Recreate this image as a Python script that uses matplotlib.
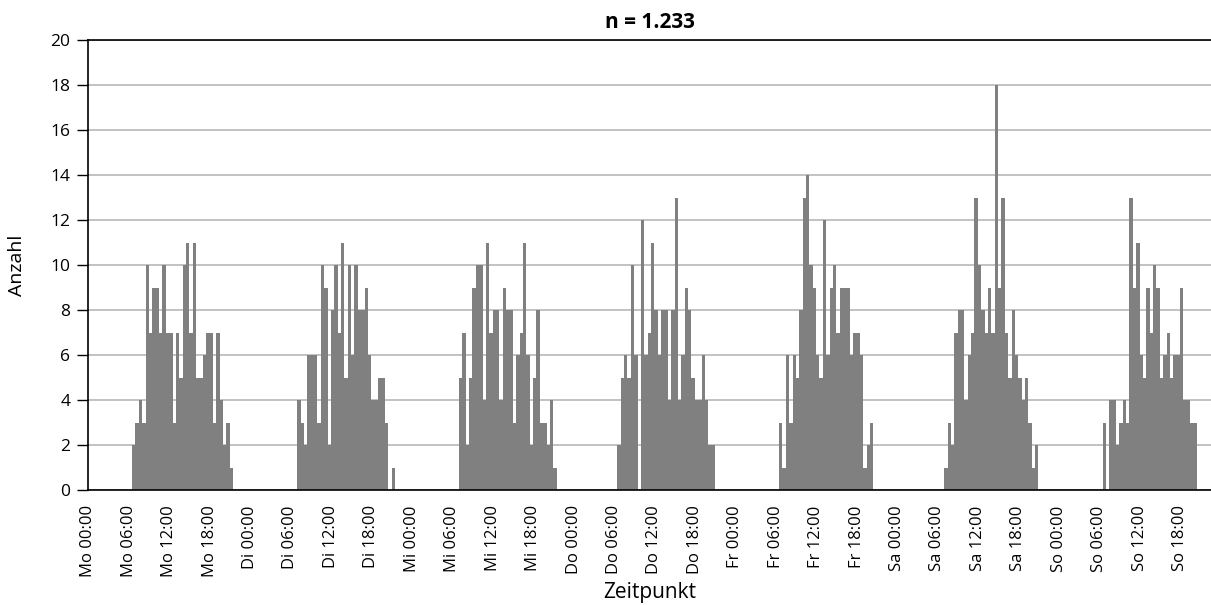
import matplotlib
matplotlib.use("Agg")
import matplotlib.pyplot as plt
import numpy as np

plt.rcParams['font.family'] = ['Open Sans', 'DejaVu Sans']

# ---- data (30-minute bins, counts per bin) ----
days = ["Mo", "Di", "Mi", "Do", "Fr", "Sa", "So"]
start_bins = [13, 14, 14, 13, 13, 14, 13]   # first non-empty 30-min bin of each day
mo = [2, 3, 4, 3, 10, 7, 9, 9, 7, 10, 7, 7, 3, 7, 5, 10, 11, 7, 11, 5, 5, 6, 7, 7, 3, 7, 4, 2, 3, 1]
di = [4, 3, 2, 6, 6, 6, 3, 10, 9, 2, 8, 10, 7, 11, 5, 10, 6, 10, 8, 8, 9, 6, 4, 4, 5, 5, 3, 0, 1]
mi = [5, 7, 2, 5, 9, 10, 10, 4, 11, 7, 8, 8, 4, 9, 8, 8, 3, 6, 7, 11, 6, 2, 5, 8, 3, 3, 2, 4, 1]
do = [2, 5, 6, 5, 10, 6, 0, 12, 6, 7, 11, 8, 6, 8, 8, 4, 8, 13, 4, 6, 9, 8, 5, 4, 4, 6, 4, 2, 2]
fr = [3, 1, 6, 3, 6, 5, 8, 13, 14, 10, 9, 6, 5, 12, 6, 9, 10, 7, 9, 9, 9, 6, 7, 7, 6, 1, 2, 3]
sa = [1, 3, 2, 7, 8, 8, 4, 6, 7, 13, 10, 8, 7, 9, 7, 18, 9, 13, 7, 5, 8, 6, 5, 4, 5, 3, 1, 2]
so = [3, 0, 4, 4, 2, 3, 4, 3, 13, 9, 11, 6, 5, 9, 7, 10, 9, 5, 6, 7, 5, 6, 6, 9, 4, 4, 3, 3]
day_values = [mo, di, mi, do, fr, sa, so]
tick_hours = [0, 6, 12, 18]
title = "n = 1.233"

# ---- build bar positions (hours since Mo 00:00) ----
bin_h = 0.5
xs, hs = [], []
for d, (sb, vals) in enumerate(zip(start_bins, day_values)):
    for i, v in enumerate(vals):
        xs.append(d * 24 + (sb + i) * bin_h)
        hs.append(v)

fig = plt.figure(figsize=(12.11, 6.05), dpi=100)
ax = fig.add_axes([88.3 / 1211, 115 / 605, 1 - 88.3 / 1211, 450 / 605])

ax.bar(xs, hs, width=bin_h, align='edge', color='#808080', linewidth=0, zorder=2)

ax.set_xlim(0, 166.6)
ax.set_ylim(0, 20)

# y axis
ax.set_yticks(range(0, 21, 2))
ax.tick_params(axis='y', direction='out', length=8, width=1, labelsize=12.5, pad=5, color='black')
ax.yaxis.grid(True, color='#b8b8b8', linewidth=1.2, zorder=0)

# x axis
major = [d * 24 + h for d in range(7) for h in tick_hours]
labels = [f"{days[d]} {h:02d}:00" for d in range(7) for h in tick_hours]
ax.set_xticks(major)
ax.set_xticklabels(labels, rotation=90, fontsize=12)
ax.tick_params(axis='x', which='major', length=0, pad=11)
ax.set_xticks([d * 24 for d in range(7)], minor=True)
ax.tick_params(axis='x', which='minor', direction='out', length=6, width=1, color='black')
ax.xaxis.grid(True, which='minor', color='#8c8c8c', linewidth=1.2, zorder=0)
ax.xaxis.grid(False, which='major')
ax.set_axisbelow(True)

for s in ['left', 'bottom', 'top']:
    ax.spines[s].set_color('black')
    ax.spines[s].set_linewidth(1.2)
ax.spines['right'].set_visible(False)

ax.set_ylabel("Anzahl", fontsize=14, va='center')
ax.yaxis.set_label_coords(-0.0635, 0.5)
ax.set_xlabel("Zeitpunkt", fontsize=15, va='center')
ax.xaxis.set_label_coords(0.5, -0.228)
ax.set_title(title, fontsize=15, fontweight='bold', pad=9)

fig.savefig("out.png", dpi=100)
